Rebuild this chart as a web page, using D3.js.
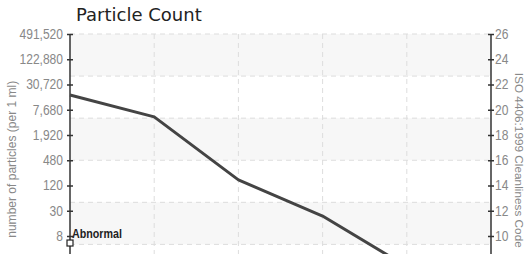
<!DOCTYPE html>
<html>
<head>
<meta charset="utf-8">
<script src="https://cdn.jsdelivr.net/npm/d3@7"></script>
<style>
  body { margin: 0; background: #fff; }
  svg { display: block; }
  .title { font-family: "DejaVu Sans", sans-serif; font-size: 18px; fill: #222; }
  .axis text { font-family: "Liberation Sans", sans-serif; font-size: 14px; fill: #888; }
  .axis path, .axis line { stroke: #333; stroke-width: 1.5; }
  .axis-title { font-family: "Liberation Sans", sans-serif; font-size: 13px; fill: #888; }
  .grid line { stroke: #ddd; stroke-dasharray: 5,4; }
  .band { fill: #f7f7f7; }
  .series { fill: none; stroke: #444; stroke-width: 3; stroke-linejoin: round; }
  .marker-label { font-family: "Liberation Sans", sans-serif; font-size: 13.5px; font-weight: bold; fill: #222; }
</style>
</head>
<body>
<svg id="chart" width="525" height="254"></svg>
<script>
// particle size channels (x categories, below the visible area)
var sizes = [">4 µm", ">6 µm", ">14 µm", ">21 µm", ">38 µm", ">70 µm"];
// measured counts per 1 ml
var counts = [17300, 5200, 163, 22.4, 1.4];
// iso codes shown on the right axis
var isoCodes = [10, 12, 14, 16, 18, 20, 22, 24, 26];
// left axis labels (counts matching each iso code)
var countLabels = ["8", "30", "120", "480", "1,920", "7,680", "30,720", "122,880", "491,520"];
var abnormalLevel = 5.1;

var margin = {top: 34, right: 34, bottom: 0, left: 70};
var width = 525 - margin.left - margin.right;
var height = 252.5;

// squeeze a text horizontally to fake a condensed face
function condense(sel, k) {
    sel.each(function() {
        var len = this.getComputedTextLength();
        d3.select(this)
            .attr("textLength", len * k)
            .attr("lengthAdjust", "spacingAndGlyphs");
    });
}

var svg = d3.select("#chart");
var g = svg.append("g")
    .attr("transform", "translate(" + margin.left + "," + margin.top + ")");

// count -> iso code: code = 10 + log2(count / 7.5)
var scaleCode = d3.scaleLinear().domain([6, 26]).range([height, 0]);
var scaleY = d3.scaleLog().base(2)
    .domain([7.5 * Math.pow(2, -4), 7.5 * Math.pow(2, 16)])
    .range([height, 0]);
var scaleX = d3.scalePoint().domain(sizes).range([0, width]);

// alternating bands + grid
var gridCodes = d3.range(0, 7).map(function(i) { return 26 - i * 20 / 6 });
g.selectAll(".band")
    .data(gridCodes.slice(0, -1).filter(function(d, i) { return i % 2 == 0 }))
    .enter()
    .append("rect")
        .attr("class", "band")
        .attr("x", 0)
        .attr("width", width)
        .attr("y", function(d) { return scaleCode(d) })
        .attr("height", scaleCode(6) / 6);

var grid = g.append("g").attr("class", "grid");
grid.selectAll(".h")
    .data(gridCodes)
    .enter()
    .append("line")
        .attr("x1", 0)
        .attr("x2", width)
        .attr("y1", function(d) { return scaleCode(d) })
        .attr("y2", function(d) { return scaleCode(d) });
grid.selectAll(".v")
    .data(sizes.slice(1, -1))
    .enter()
    .append("line")
        .attr("x1", function(d) { return scaleX(d) })
        .attr("x2", function(d) { return scaleX(d) })
        .attr("y1", 0)
        .attr("y2", height);

// Left axis
var leftTicks = isoCodes.map(function(c) { return 7.5 * Math.pow(2, c - 10) });
g.append("g")
    .attr("class", "axis")
    .call(d3.axisLeft(scaleY)
        .tickValues(leftTicks)
        .tickSize(3)
        .tickPadding(4)
        .tickFormat(function(d, i) { return countLabels[i] }))
    .call(function(a) {
        a.select(".domain").attr("d", "M0,0V" + height);
        a.selectAll(".tick line").attr("x1", 3);
        a.selectAll("text").call(condense, 0.86);
    });

// Right axis
g.append("g")
    .attr("class", "axis")
    .attr("transform", "translate(" + width + ",0)")
    .call(d3.axisRight(scaleCode)
        .tickValues(isoCodes)
        .tickSize(3)
        .tickPadding(1))
    .call(function(a) {
        a.select(".domain").attr("d", "M0,0V" + height);
        a.selectAll(".tick line").attr("x1", -3);
        a.selectAll("text").call(condense, 0.86);
    });

// Line
var line = d3.line()
    .x(function(d, i) { return scaleX(sizes[i]) })
    .y(function(d) { return scaleY(d) });
g.append("path")
    .datum(counts)
    .attr("class", "series")
    .attr("d", line);

// Abnormal marker
g.append("rect")
    .attr("x", -3)
    .attr("y", scaleY(abnormalLevel) - 3)
    .attr("width", 6)
    .attr("height", 6)
    .attr("fill", "#fff")
    .attr("stroke", "#222")
    .attr("stroke-width", 1.2);
g.append("text")
    .attr("class", "marker-label")
    .attr("x", 2)
    .attr("y", scaleY(abnormalLevel) - 5)
    .attr("textLength", 50)
    .attr("lengthAdjust", "spacingAndGlyphs")
    .text("Abnormal");

// Titles
svg.append("text")
    .attr("class", "title")
    .attr("x", 76)
    .attr("y", 21)
    .text("Particle Count");

svg.append("text")
    .attr("class", "axis-title")
    .attr("text-anchor", "middle")
    .attr("textLength", 157)
    .attr("lengthAdjust", "spacingAndGlyphs")
    .attr("transform", "translate(16," + (margin.top + height / 2 - 1) + ") rotate(-90)")
    .text("number of particles (per 1 ml)");

svg.append("text")
    .attr("class", "axis-title")
    .attr("text-anchor", "middle")
    .attr("textLength", 175)
    .attr("lengthAdjust", "spacingAndGlyphs")
    .style("font-size", "11px")
    .attr("transform", "translate(515," + (margin.top + height / 2) + ") rotate(90)")
    .text("ISO 4406:1999 Cleanliness Code");
</script>
</body>
</html>
